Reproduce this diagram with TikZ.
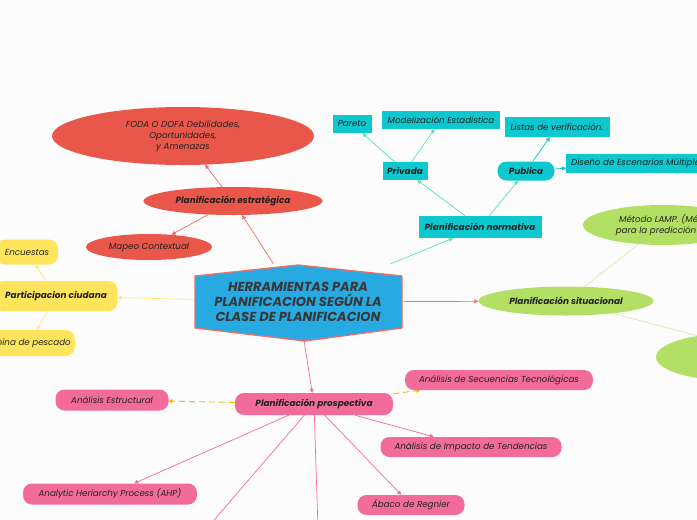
\documentclass[tikz,border=0pt]{standalone}
\usepackage{fontspec}
\setmainfont{Poppins}
\usepackage{tikz}
\usetikzlibrary{arrows.meta,shapes.geometric,backgrounds}
\definecolor{estrred}{HTML}{E9574A}
\definecolor{normteal}{HTML}{0DC8CF}
\definecolor{situgreen}{HTML}{B3DF64}
\definecolor{partyellow}{HTML}{FFE45C}
\definecolor{prospink}{HTML}{F26C9B}
\definecolor{rootblue}{HTML}{27A9E2}
\definecolor{rootedge}{HTML}{F06E66}
\definecolor{inkgray}{HTML}{222222}
\newcommand{\labfont}{\fontsize{8.7}{11}\selectfont\itshape}
\newcommand{\headfont}{\fontsize{8.9}{11}\selectfont\bfseries\itshape}

\begin{document}
\begin{tikzpicture}[x=1pt, y=-1pt,
    redell/.style={ellipse, fill=estrred, inner sep=0pt, text=inkgray, font=\labfont},
    tealbox/.style={rectangle, fill=normteal, inner sep=2pt, text=inkgray, font=\labfont},
    greenell/.style={ellipse, fill=situgreen, inner sep=0pt, text=inkgray, font=\labfont},
    yelbox/.style={rectangle, rounded corners=9pt, fill=partyellow, inner sep=2pt, text=inkgray, font=\labfont},
    pinkbox/.style={rectangle, rounded corners=9pt, fill=prospink, inner sep=2pt, text=inkgray, font=\labfont},
    head/.style={font=\headfont},
    tip/.style={-{Triangle[length=4pt,width=4pt]}},
    redline/.style={tip, draw=rootedge, line width=0.7pt},
    tealline/.style={tip, draw=normteal!60!green!70, line width=0.7pt},
    cyanline/.style={tip, draw=normteal, line width=0.7pt},
    yelline/.style={tip, draw=partyellow!80, line width=0.7pt},
    greenline/.style={draw=situgreen!60, line width=0.6pt},
    pinkline/.style={tip, draw=prospink, line width=0.7pt},
    dashline/.style={tip, draw=orange!60!yellow, line width=0.9pt, dash pattern=on 6pt off 4pt}
]
\useasboundingbox (0,0) rectangle (697,520);
\clip (0,0) rectangle (697,520);

% root
\filldraw[fill=rootblue, draw=rootedge, line width=1.3pt, line join=round]
    (195,276) -- (298,265) -- (402,276) -- (402,328) -- (305,341) -- (195,328) -- cycle;
\node[rectangle, minimum width=207, minimum height=76, align=center, text=inkgray!90,
      font=\fontsize{13}{15}\selectfont\bfseries\itshape]
      (root) at (298,302) {HERRAMIENTAS PARA\\PLANIFICACION SEGÚN LA\\CLASE DE PLANIFICACION};

% planificacion estrategica
\node[redell, align=center, minimum width=262, minimum height=58] (foda) at (183,136) {FODA O DOFA Debilidades,\\Oportunidades,\\y Amenazas};
\node[redell, head, minimum width=179, minimum height=28] (estr) at (233,201) {Planificación estratégica};
\node[redell, minimum width=126, minimum height=26] (mapeo) at (149,247) {Mapeo Contextual};

% planificacion normativa
\node[tealbox, head, minimum width=123, minimum height=22] (norm) at (480,227) {Planificación normativa};
\node[tealbox, head, minimum width=45, minimum height=18] (priv) at (405,171) {Privada};
\node[tealbox, head, rounded corners=9pt, minimum width=57, minimum height=19] (publ) at (526,171) {Publica};
\node[tealbox, minimum width=39, minimum height=18] (pareto) at (352,124) {Pareto};
\node[tealbox, minimum width=118, minimum height=18] (model) at (441,120) {Modelización Estadística};
\node[tealbox, minimum width=105, minimum height=20] (listas) at (557,127) {Listas de verificación.};
\node[tealbox, anchor=west, minimum height=19, inner xsep=5pt] (diseno) at (566,163) {Diseño de Escenarios Múltiples};

% planificacion situacional
\node[greenell, head, minimum width=175, minimum height=29] (situ) at (566,301) {Planificación situacional};
\node[greenell, align=center, minimum width=160, minimum height=40] (lamp) at (663,225) {Método LAMP. (Méto\\para la predicción de};
\node[greenell, minimum width=160, minimum height=48] (situb) at (736,357) {};

% participacion ciudadana
\node[yelbox, head, minimum width=123, minimum height=30] (part) at (56,296) {Participacion ciudana};
\node[yelbox, minimum width=62, minimum height=25] (encu) at (27,252) {Encuestas};
\node[yelbox, anchor=east, minimum height=26, inner xsep=4pt] (espina) at (75,343) {Espina de pescado};

% planificacion prospectiva
\node[pinkbox, head, minimum width=158, minimum height=22] (prosp) at (314,404) {Planificación prospectiva};
\node[pinkbox, minimum width=188, minimum height=20] (secu) at (499,380) {Análisis de Secuencias Tecnológicas};
\node[pinkbox, minimum width=113, minimum height=21] (estruc) at (112,400) {Análisis Estructural};
\node[pinkbox, minimum width=181, minimum height=20] (impacto) at (471,447) {Análisis de Impacto de Tendencias};
\node[pinkbox, minimum width=107, minimum height=20] (abaco) at (411,505) {Ábaco de Regnier};
\node[pinkbox, minimum width=174, minimum height=21] (ahp) at (110,494) {Analytic Heriarchy Process (AHP)};
\coordinate (downleft) at (190,548);
\coordinate (down) at (319,560);

\begin{scope}[on background layer]
\fill[white!98!gray] (0,0) rectangle (697,520);
\draw[redline] (root) -- (estr);
\draw[redline] (estr) -- (foda);
\draw[redline] (estr) -- (mapeo);
\draw[redline] (root) -- (situ);
\draw[tealline] (root) -- (norm);
\draw[tealline] (norm) -- (priv);
\draw[tealline] (norm) -- (publ);
\draw[tealline] (priv) -- (pareto);
\draw[tealline] (priv) -- (model);
\draw[cyanline] (publ) -- (listas);
\draw[cyanline] (publ) -- (diseno);
\draw[greenline] (situ) -- (lamp);
\draw[greenline] (situ) -- ([yshift=11pt]situb.center);
\draw[yelline] (root) -- (part);
\draw[yelline] (part) -- (encu);
\draw[yelline] (part) -- (espina);
\draw[pinkline] (root) -- (prosp);
\draw[dashline] (prosp) -- (estruc);
\draw[dashline] (prosp) -- (secu);
\draw[pinkline] (prosp) -- (impacto);
\draw[pinkline] (prosp) -- (abaco);
\draw[pinkline] (prosp) -- (ahp);
\draw[pinkline, -] (prosp) -- (downleft);
\draw[pinkline, -] (prosp) -- (down);
\end{scope}

\end{tikzpicture}
\end{document}
